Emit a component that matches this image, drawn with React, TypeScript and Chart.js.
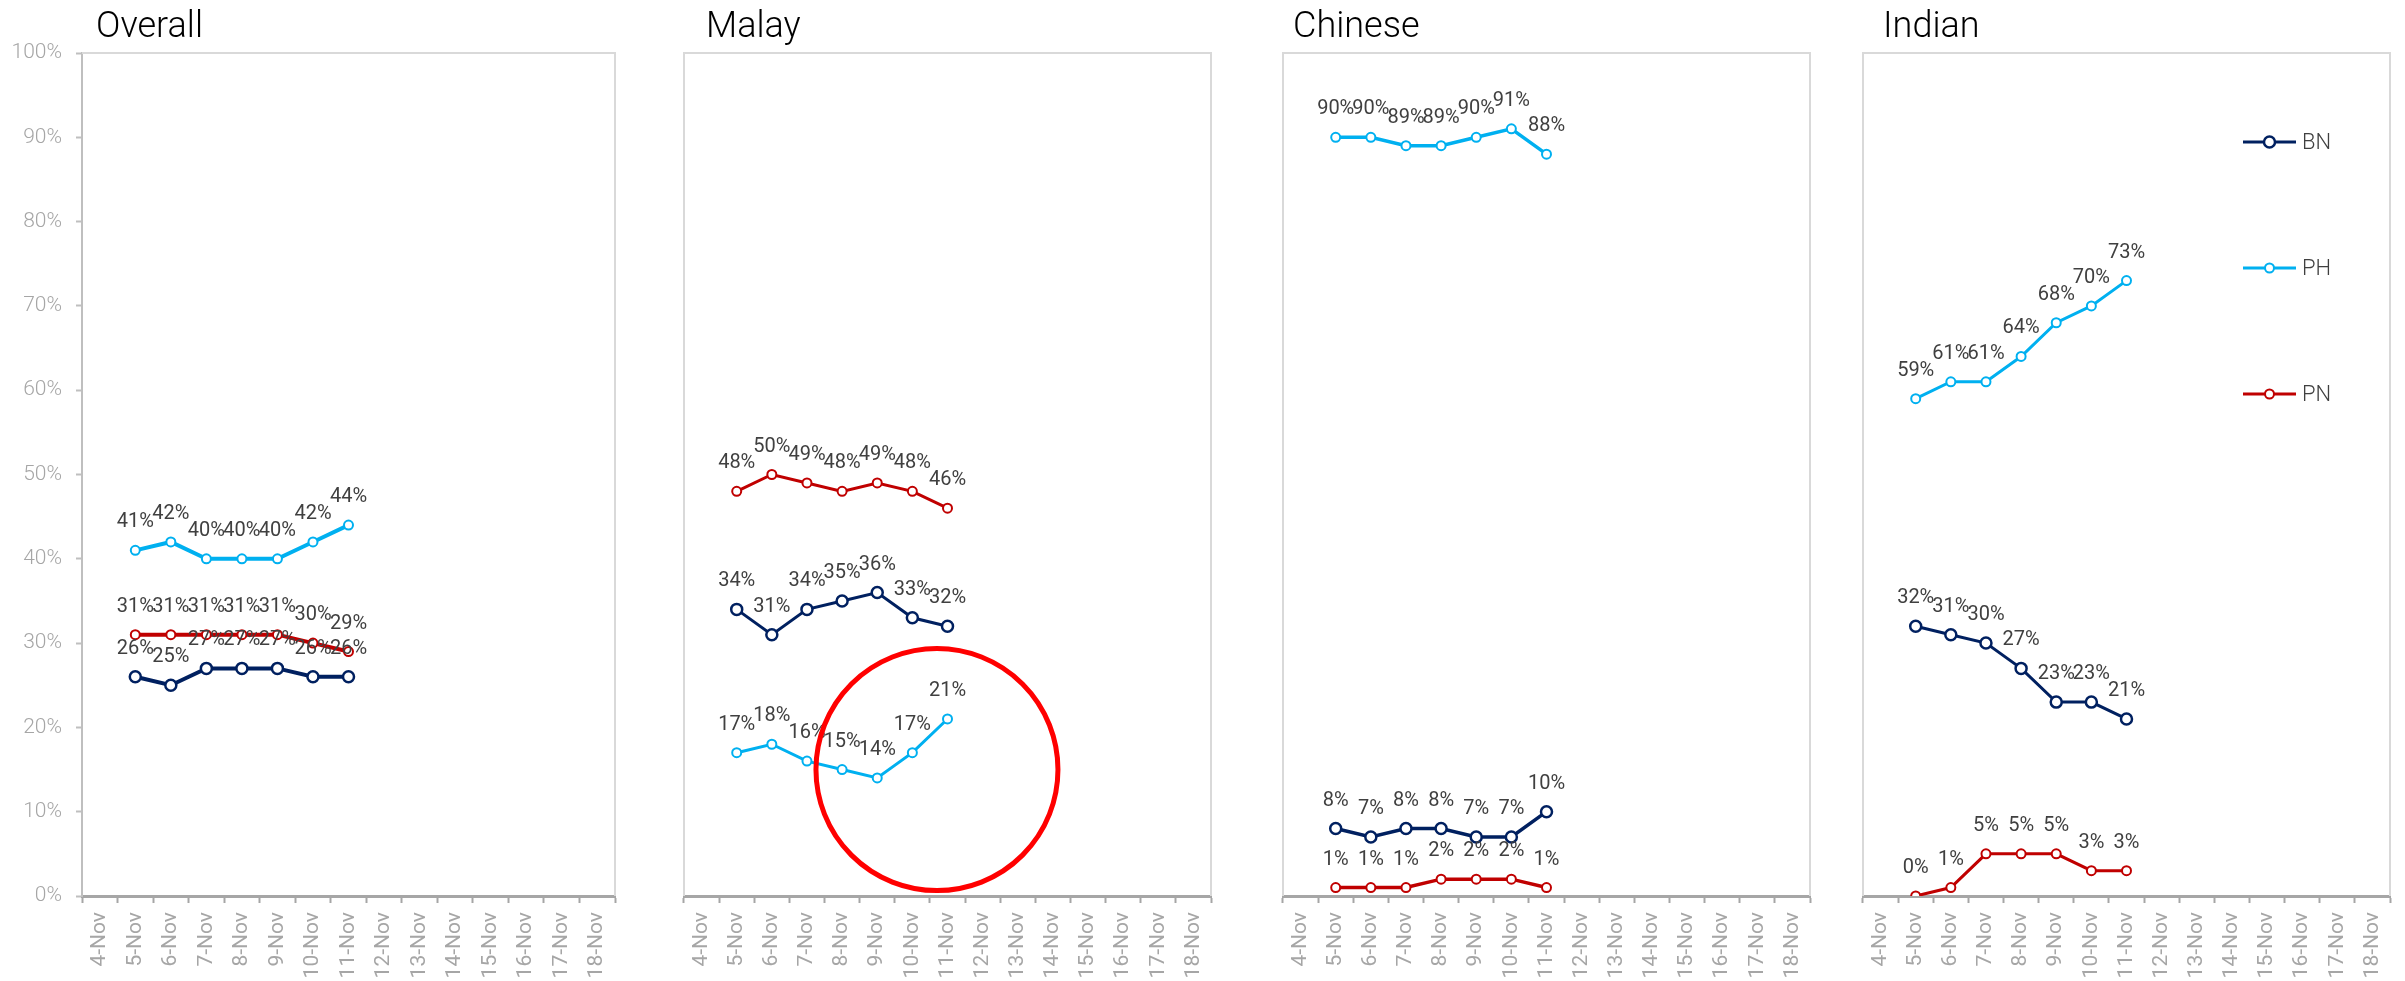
import React, { useEffect, useRef } from 'react';
import { Chart, registerables } from 'chart.js';

Chart.register(...registerables);

// ---------- data ----------
const dates = ['4-Nov', '5-Nov', '6-Nov', '7-Nov', '8-Nov', '9-Nov', '10-Nov', '11-Nov', '12-Nov', '13-Nov', '14-Nov', '15-Nov', '16-Nov', '17-Nov', '18-Nov'];
const seriesNames = ['BN', 'PH', 'PN'];
const panelTitles = ['Overall', 'Malay', 'Chinese', 'Indian'];

const overallBN = [null, 26, 25, 27, 27, 27, 26, 26, null, null, null, null, null, null, null];
const overallPH = [null, 41, 42, 40, 40, 40, 42, 44, null, null, null, null, null, null, null];
const overallPN = [null, 31, 31, 31, 31, 31, 30, 29, null, null, null, null, null, null, null];

const malayBN = [null, 34, 31, 34, 35, 36, 33, 32, null, null, null, null, null, null, null];
const malayPH = [null, 17, 18, 16, 15, 14, 17, 21, null, null, null, null, null, null, null];
const malayPN = [null, 48, 50, 49, 48, 49, 48, 46, null, null, null, null, null, null, null];

const chineseBN = [null, 8, 7, 8, 8, 7, 7, 10, null, null, null, null, null, null, null];
const chinesePH = [null, 90, 90, 89, 89, 90, 91, 88, null, null, null, null, null, null, null];
const chinesePN = [null, 1, 1, 1, 2, 2, 2, 1, null, null, null, null, null, null, null];

const indianBN = [null, 32, 31, 30, 27, 23, 23, 21, null, null, null, null, null, null, null];
const indianPH = [null, 59, 61, 61, 64, 68, 70, 73, null, null, null, null, null, null, null];
const indianPN = [null, 0, 1, 5, 5, 5, 3, 3, null, null, null, null, null, null, null];

const panelData = [
  [overallBN, overallPH, overallPN],
  [malayBN, malayPH, malayPN],
  [chineseBN, chinesePH, chinesePN],
  [indianBN, indianPH, indianPN],
];

const yMin = 0;
const yMax = 100;
const yStep = 10;

// red circle highlight in the Malay panel (category index, value)
const highlightX = 6.7;
const highlightY = 15;

// ---------- styles / layout ----------
const W = 2405;
const H = 981;
const PLOT_TOP = 53;
const PLOT_BOTTOM = 896;
const PLOT_W = 538;
const plotLefts = [82, 678, 1277, 1857];
const titleOffsets = [14, 22, 10, 20];
const lineWidths = [4, 3, 3.5, 3];
const colors = ['#002060', '#00B0F0', '#C00000'];
const pointRadii = [5.5, 4.5, 4.5];
const pointBorders = [2.5, 2, 2];
const FONT = 'Roboto, "Noto Sans", sans-serif';
const AXIS_GRAY = '#a6a6a6';
const FRAME_GRAY = '#d9d9d9';
const LABEL_COLOR = '#404040';

function makePlugins(panel: number) {
  const isFirst = panel === 0;
  return [
    {
      id: 'frame' + panel,
      beforeDatasetsDraw(chart: any) {
        const { ctx, chartArea: a } = chart;
        ctx.save();
        ctx.strokeStyle = FRAME_GRAY;
        ctx.lineWidth = 2;
        ctx.beginPath();
        if (!isFirst) {
          ctx.moveTo(a.left, a.bottom);
          ctx.lineTo(a.left, a.top);
        } else {
          ctx.moveTo(a.left, a.top);
        }
        ctx.lineTo(a.right, a.top);
        ctx.lineTo(a.right, a.bottom);
        ctx.stroke();
        ctx.restore();
      },
    },
    {
      id: 'labels' + panel,
      afterDatasetsDraw(chart: any) {
        const { ctx } = chart;
        ctx.save();
        ctx.fillStyle = LABEL_COLOR;
        ctx.font = `400 20px ${FONT}`;
        ctx.textAlign = 'center';
        ctx.textBaseline = 'middle';
        chart.data.datasets.forEach((ds: any, di: number) => {
          const meta = chart.getDatasetMeta(di);
          meta.data.forEach((pt: any, i: number) => {
            const v = ds.data[i];
            if (v === null || v === undefined) return;
            ctx.fillText(`${v}%`, pt.x, pt.y - 28);
          });
        });
        ctx.restore();
      },
    },
    {
      id: 'title' + panel,
      afterDraw(chart: any) {
        const { ctx, chartArea: a } = chart;
        ctx.save();
        ctx.fillStyle = '#000000';
        ctx.font = `300 36px ${FONT}`;
        ctx.textAlign = 'left';
        ctx.textBaseline = 'alphabetic';
        ctx.fillText(panelTitles[panel], a.left + titleOffsets[panel], 37);
        ctx.restore();
      },
    },
    {
      id: 'extras' + panel,
      afterDraw(chart: any) {
        const { ctx, chartArea: a } = chart;
        if (panel === 1) {
          const xs = chart.scales.x;
          const ys = chart.scales.y;
          ctx.save();
          ctx.strokeStyle = '#ff0000';
          ctx.lineWidth = 5;
          ctx.beginPath();
          ctx.arc(xs.getPixelForValue(highlightX), ys.getPixelForValue(highlightY), 121, 0, Math.PI * 2);
          ctx.stroke();
          ctx.restore();
        }
        if (panel === 3) {
          ctx.save();
          chart.data.datasets.forEach((ds: any, di: number) => {
            const y = a.top + 89 + di * 126;
            const x0 = a.right - 147;
            const x1 = a.right - 94;
            ctx.strokeStyle = ds.borderColor;
            ctx.lineWidth = 3;
            ctx.beginPath();
            ctx.moveTo(x0, y);
            ctx.lineTo(x1, y);
            ctx.stroke();
            ctx.beginPath();
            ctx.arc((x0 + x1) / 2, y, ds.pointRadius, 0, Math.PI * 2);
            ctx.fillStyle = '#ffffff';
            ctx.fill();
            ctx.lineWidth = ds.pointBorderWidth;
            ctx.stroke();
            ctx.fillStyle = LABEL_COLOR;
            ctx.font = `300 22px ${FONT}`;
            ctx.textAlign = 'left';
            ctx.textBaseline = 'middle';
            ctx.fillText(ds.label, x1 + 6, y + 1);
          });
          ctx.restore();
        }
      },
    },
  ];
}

function buildChart(canvas: HTMLCanvasElement, panel: number) {
  const isFirst = panel === 0;
  const padLeft = isFirst ? 0 : 2;
  const datasets = panelData[panel].map((values, si) => ({
    label: seriesNames[si],
    data: values,
    borderColor: colors[si],
    backgroundColor: colors[si],
    borderWidth: lineWidths[panel],
    pointRadius: pointRadii[si],
    pointBorderWidth: pointBorders[si],
    pointBackgroundColor: '#ffffff',
    pointBorderColor: colors[si],
    pointHoverRadius: pointRadii[si],
    tension: 0,
    spanGaps: false,
  }));
  return new Chart(canvas, {
    type: 'line',
    data: { labels: dates, datasets },
    options: {
      responsive: false,
      maintainAspectRatio: false,
      animation: false,
      devicePixelRatio: 1,
      layout: { padding: { top: PLOT_TOP, left: padLeft, right: 3, bottom: 0 } },
      plugins: {
        legend: { display: false },
        tooltip: { enabled: false },
        title: { display: false },
      },
      scales: {
        x: {
          type: 'category',
          offset: true,
          grid: {
            display: true,
            drawOnChartArea: false,
            drawTicks: true,
            tickLength: 7,
            tickWidth: 2,
            tickColor: AXIS_GRAY,
            offset: true,
          },
          border: { display: true, color: AXIS_GRAY, width: 3 },
          ticks: {
            autoSkip: false,
            minRotation: 90,
            maxRotation: 90,
            color: '#a6a6a6',
            padding: 9,
            font: { family: FONT, size: 21, weight: 'normal' },
          },
          afterFit: (s: any) => {
            s.height = H - PLOT_BOTTOM;
            s.paddingLeft = 0;
            s.paddingRight = 0;
          },
        },
        y: {
          display: isFirst,
          min: yMin,
          max: yMax,
          grid: {
            drawOnChartArea: false,
            drawTicks: true,
            tickLength: 6,
            tickWidth: 2,
            tickColor: '#bfbfbf',
          },
          border: { display: true, color: '#bfbfbf', width: 2 },
          ticks: {
            stepSize: yStep,
            padding: 14,
            color: '#a6a6a6',
            font: { family: FONT, size: 21, weight: '300' },
            callback: (v: any) => `${v}%`,
          },
          afterFit: (s: any) => {
            if (isFirst) s.width = plotLefts[0];
            s.paddingTop = 0;
            s.paddingBottom = 0;
          },
        },
      },
    },
    plugins: makePlugins(panel) as any,
  } as any);
}

export default function App() {
  const refs = [useRef<HTMLCanvasElement>(null), useRef<HTMLCanvasElement>(null), useRef<HTMLCanvasElement>(null), useRef<HTMLCanvasElement>(null)];

  useEffect(() => {
    const charts = refs.map((r, i) => (r.current ? buildChart(r.current, i) : null));
    return () => {
      charts.forEach((c) => c && c.destroy());
    };
  }, []);

  return (
    <div style={{ position: 'fixed', left: 0, top: 0, width: W, height: H, overflow: 'hidden', background: '#ffffff' }}>
      {plotLefts.map((pl, i) => {
        const padLeft = i === 0 ? 0 : 2;
        const left = i === 0 ? 0 : pl - padLeft;
        const width = (i === 0 ? pl : padLeft) + PLOT_W + 3;
        return (
          <canvas
            key={i}
            ref={refs[i]}
            width={width}
            height={H}
            style={{ position: 'absolute', left, top: 0, width, height: H, display: 'block' }}
          />
        );
      })}
    </div>
  );
}
